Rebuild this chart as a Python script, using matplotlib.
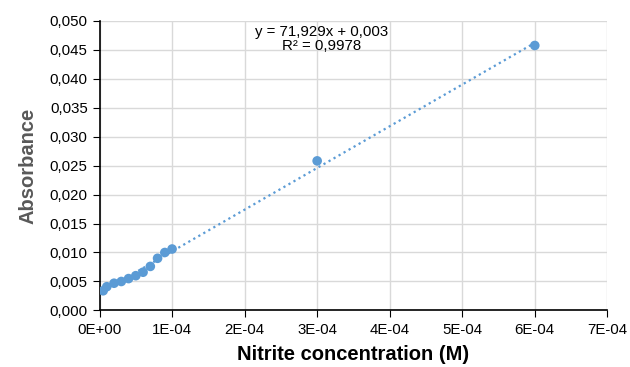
import matplotlib
matplotlib.use("Agg")
import matplotlib.pyplot as plt
import numpy as np
from matplotlib.ticker import FuncFormatter, MultipleLocator

plt.rcParams['font.family'] = ['Liberation Sans', 'DejaVu Sans']

conc = [5e-6, 1e-5, 2e-5, 3e-5, 4e-5, 5e-5, 6e-5, 7e-5, 8e-5, 9e-5, 1e-4, 3e-4, 6e-4]
absorb = [0.0034, 0.0041, 0.0047, 0.0050, 0.0055, 0.0060, 0.0066, 0.0076, 0.0090, 0.0100, 0.0106, 0.0258, 0.0457]
slope = 71.929
intercept = 0.003
equation = "y = 71,929x + 0,003"
r2_text = "R² = 0,9978"

blue = "#5B9BD5"

fig = plt.figure(figsize=(6.3, 3.67), dpi=100)
ax = fig.add_axes([0.158, 0.154, 0.806, 0.790])

xs = np.array([min(conc), max(conc)])
ax.plot(xs, slope * xs + intercept, linestyle=(0, (1, 1.6)), color=blue, linewidth=1.6, zorder=2)
ax.scatter(conc, absorb, s=48, color=blue, zorder=3, edgecolors='none')

ax.set_xlim(0, 7e-4)
ax.set_ylim(0, 0.050)
ax.xaxis.set_major_locator(MultipleLocator(1e-4))
ax.yaxis.set_major_locator(MultipleLocator(0.005))

def xfmt(v, pos):
    if abs(v) < 1e-12:
        return "0E+00"
    e = int(np.floor(np.log10(abs(v)) + 1e-9))
    m = v / 10**e
    return f"{m:.0f}E-{abs(e):02d}"

ax.xaxis.set_major_formatter(FuncFormatter(xfmt))
ax.yaxis.set_major_formatter(FuncFormatter(lambda v, p: f"{v:.3f}".replace('.', ',')))

ax.grid(True, color="#D9D9D9", linewidth=1)
ax.set_axisbelow(True)
for s in ['top', 'right']:
    ax.spines[s].set_visible(False)
for s in ['left', 'bottom']:
    ax.spines[s].set_color('#000000')
    ax.spines[s].set_linewidth(1.2)
ax.tick_params(axis='both', direction='out', length=5, color='black', labelsize=10.8, labelcolor='#000000')
ax.tick_params(axis='x', pad=4)

ax.set_xlabel("Nitrite concentration (M)", fontsize=14.5, fontweight='bold', color='black', labelpad=6)
ax.set_ylabel("Absorbance", fontsize=14.5, fontweight='bold', color='#595959', labelpad=9)

ax.text(3.06e-4, 0.0480, equation, fontsize=10.8, ha='center', va='center')
ax.text(3.06e-4, 0.0456, r2_text, fontsize=10.8, ha='center', va='center')

fig.savefig("out.png", dpi=100)
